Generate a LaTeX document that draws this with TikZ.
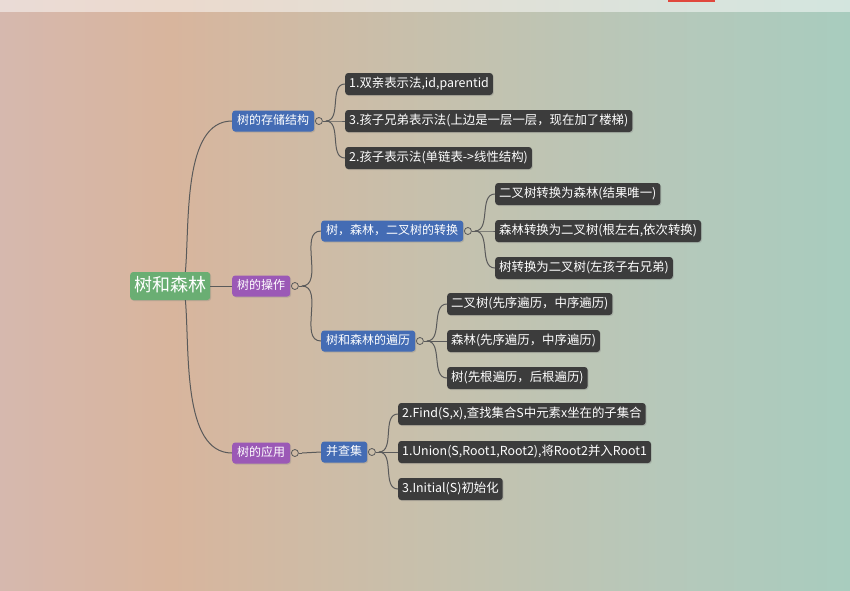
\documentclass[tikz,border=0pt]{standalone}
\usepackage{fontspec}
\newfontfamily\cjk{Noto Sans CJK SC}
\usetikzlibrary{positioning, shadows}

\definecolor{bgA}{RGB}{214,184,174}
\definecolor{bgB}{RGB}{216,181,157}
\definecolor{bgC}{RGB}{199,192,172}
\definecolor{bgD}{RGB}{182,200,186}
\definecolor{bgE}{RGB}{168,204,190}
\definecolor{rootgreen}{RGB}{106,174,115}
\definecolor{midblue}{RGB}{68,108,180}
\definecolor{midpurple}{RGB}{155,89,182}
\definecolor{leafgray}{RGB}{60,60,60}
\definecolor{linegray}{RGB}{90,90,90}
\definecolor{topred}{RGB}{224,72,61}

\pgfdeclarehorizontalshading{bgshade}{100bp}{color(0bp)=(bgA); color(25bp)=(bgA); color(35bp)=(bgB); color(50bp)=(bgC); color(64bp)=(bgD); color(75bp)=(bgE); color(100bp)=(bgE)}

\begin{document}
\begin{tikzpicture}[x=1pt, y=1pt,
    box/.style={rounded corners=3pt, text=white, font=\cjk\fontsize{12.4}{14}\selectfont,
        inner xsep=4pt, inner ysep=0pt, text height=10pt, text depth=2.5pt,
        minimum height=22pt, anchor=west,
        drop shadow={shadow xshift=1pt, shadow yshift=-1pt, opacity=.3}},
    leaf/.style={box, fill=leafgray},
    bluebox/.style={box, fill=midblue, font=\cjk\fontsize{12}{14}\selectfont, inner xsep=5pt, minimum height=21pt},
    purplebox/.style={box, fill=midpurple, font=\cjk\fontsize{12}{14}\selectfont, inner xsep=5pt, minimum height=21pt},
    link/.style={draw=linegray, line width=1pt},
    knob/.style={circle, draw=linegray, line width=.8pt, minimum size=7pt, inner sep=0pt}]

\useasboundingbox (0,0) rectangle (850,-590);
\shade[shading=bgshade] (0,0) rectangle (850,-590);
\fill[white, opacity=.5] (0,0) rectangle (850,-12);
\fill[topred] (668,0) rectangle (715,-1.5);

% root and first level
\node[box, fill=rootgreen, font=\cjk\fontsize{18}{20}\selectfont, text height=14pt, text depth=3.5pt, minimum height=28pt] (root) at (130,-286) {树和森林};
\node[bluebox] (store) at (232,-121) {树的存储结构};
\node[purplebox] (ops) at (232,-286) {树的操作};
\node[purplebox] (apps) at (232,-453) {树的应用};

% second level
\node[bluebox] (conv) at (321,-231) {树，森林，二叉树的转换};
\node[bluebox] (trav) at (321,-341) {树和森林的遍历};
\node[bluebox] (ufs) at (321,-452) {并查集};

\coordinate (rtop) at ([xshift=-25pt]root.north east);
\coordinate (rbot) at ([xshift=-25pt]root.south east);
\draw[link] (rtop) to[out=85, in=180, looseness=.8] (store.west);
\draw[link] (root.east) -- (ops.west);
\draw[link] (rbot) to[out=-85, in=180, looseness=.8] (apps.west);

\foreach \b in {store,ops,apps,conv,trav,ufs}
{
    \node[knob] (k\b) at ([xshift=4.5pt]\b.east) {};
    \coordinate (f\b) at ([xshift=3pt]k\b.east);
    \draw[link] (k\b) -- (f\b);
}

\draw[link] (fops) to[out=0, in=180] (conv.west);
\draw[link] (fops) to[out=0, in=180] (trav.west);
\draw[link] (fapps) -- (ufs.west);

% leaves
\foreach \nm/\yy/\txt in {s1/84/{1.双亲表示法,id,parentid},
    s3/121/{3.孩子兄弟表示法(上边是一层一层，现在加了楼梯)},
    s2/158/{2.孩子表示法(单链表->线性结构)}}
{
    \node[leaf] (\nm) at (345,-\yy) {\txt};
    \draw[link] (fstore) to[out=0, in=180] (\nm.west);
}

\foreach \nm/\yy/\txt in {c1/194/{二叉树转换为森林(结果唯一)},
    c2/231/{森林转换为二叉树(根左右,依次转换)},
    c3/268/{树转换为二叉树(左孩子右兄弟)}}
{
    \node[leaf] (\nm) at (495,-\yy) {\txt};
    \draw[link] (fconv) to[out=0, in=180] (\nm.west);
}

\foreach \nm/\yy/\txt in {t1/304/{二叉树(先序遍历，中序遍历)},
    t2/341/{森林(先序遍历，中序遍历)},
    t3/378/{树(先根遍历，后根遍历)}}
{
    \node[leaf] (\nm) at (447,-\yy) {\txt};
    \draw[link] (ftrav) to[out=0, in=180] (\nm.west);
}

\foreach \nm/\yy/\txt in {u1/414/{2.Find(S,x),查找集合S中元素x坐在的子集合},
    u2/452/{1.Union(S,Root1,Root2),将Root2并入Root1},
    u3/489/{3.Initial(S)初始化}}
{
    \node[leaf] (\nm) at (398,-\yy) {\txt};
    \draw[link] (fufs) to[out=0, in=180] (\nm.west);
}
\end{tikzpicture}
\end{document}
